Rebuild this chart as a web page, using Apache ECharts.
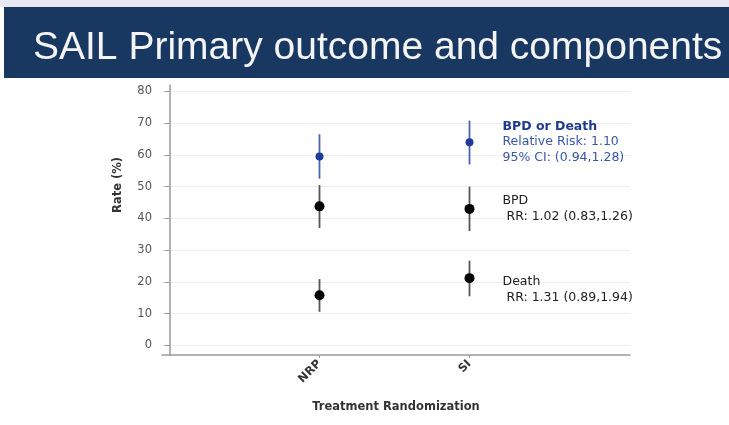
<!DOCTYPE html>
<html>
<head>
<meta charset="utf-8">
<script src="https://cdn.jsdelivr.net/npm/echarts@6/dist/echarts.min.js"></script>
<style>html,body{margin:0;padding:0;background:#fff;}#c{width:729px;height:425px;}</style>
</head>
<body>
<div id="c"></div>
<script>
// ---- data ----
const categories = ['NRP', 'SI'];
const yTicks = [0, 10, 20, 30, 40, 50, 60, 70, 80];
const compositeRate = [59.5, 64.0];
const compositeLow = [52.5, 57.0];
const compositeHigh = [66.5, 70.8];
const bpdRate = [43.8, 43.0];
const bpdLow = [37.0, 36.0];
const bpdHigh = [50.5, 50.0];
const deathRate = [15.8, 21.2];
const deathLow = [10.6, 15.5];
const deathHigh = [20.9, 26.7];
const compositeNote = ['BPD or Death', 'Relative Risk: 1.10', '95% CI: (0.94,1.28)'];
const bpdNote = ['BPD', ' RR: 1.02 (0.83,1.26)'];
const deathNote = ['Death', ' RR: 1.31 (0.89,1.94)'];
const titleText = 'SAIL Primary outcome and components';
const xName = 'Treatment Randomization';
const yName = 'Rate (%)';

const BLUE = '#1f3d98', BLUE_LINE = '#4a62b2';
const BLACK = '#050505', BLACK_LINE = '#555555';
const FONT = 'DejaVu Sans';

function pointData(rates, noteFn) {
  return rates.map((v, i) => {
    const item = { value: [i + 1, v] };
    if (i === categories.length - 1 && noteFn) item.label = noteFn();
    return item;
  });
}
function ciData(lo, hi) { return lo.map((l, i) => [i + 1, l, hi[i]]); }
function ciSeries(lo, hi, color) {
  return {
    type: 'custom', data: ciData(lo, hi), z: 1,
    encode: { x: 0, y: [1, 2] },
    renderItem: (params, api) => {
      const p1 = api.coord([api.value(0), api.value(1)]);
      const p2 = api.coord([api.value(0), api.value(2)]);
      return { type: 'line', shape: { x1: p1[0], y1: p1[1], x2: p2[0], y2: p2[1] },
        style: { stroke: color, lineWidth: 1.8 } };
    }
  };
}

const chart = echarts.init(document.getElementById('c'), null, { renderer: 'canvas' });
chart.setOption({
  animation: false,
  backgroundColor: '#ffffff',
  graphic: [
    { type: 'rect', left: 0, top: 0, z: -10, shape: { width: 729, height: 7 }, style: { fill: '#e8e6f1' } },
    { type: 'rect', left: 4, top: 7, z: -10, shape: { width: 725, height: 71 }, style: { fill: '#183862' } }
  ],
  title: {
    text: titleText, left: 28, top: 24, z: 10,
    textStyle: { color: '#f4f4f4', fontSize: 39, fontWeight: 'normal', fontFamily: 'Liberation Sans' }
  },
  grid: { left: 162, right: 99, top: 85, bottom: 70 },
  xAxis: {
    type: 'value', min: -0.05, max: 3.07,
    name: xName, nameLocation: 'middle', nameGap: 46,
    nameTextStyle: { color: '#333', fontWeight: 'bold', fontSize: 11.5, fontFamily: FONT },
    axisLine: { show: true, onZero: false, lineStyle: { color: '#9a9a9a', width: 1.5 } },
    axisTick: { show: true, length: 3, customValues: [1, 2], lineStyle: { color: '#9a9a9a' } },
    axisLabel: { customValues: [1, 2], rotate: 45, formatter: v => categories[Math.round(v) - 1] || '',
      color: '#333', fontWeight: 'bold', fontSize: 11.5, fontFamily: FONT, margin: 7 },
    splitLine: { show: false }
  },
  yAxis: {
    type: 'value', min: -3, max: 82,
    name: yName, nameLocation: 'middle', nameGap: 38,
    nameTextStyle: { color: '#333', fontWeight: 'bold', fontSize: 11.5, fontFamily: FONT, padding: [0, 0, 0, 70] },
    axisLine: { show: true, lineStyle: { color: '#9a9a9a', width: 1.5 } },
    axisTick: { show: true, length: 5, customValues: yTicks, lineStyle: { color: '#9a9a9a' } },
    axisLabel: { customValues: yTicks, color: '#555', fontSize: 11.5, fontFamily: FONT, margin: 10 },
    splitLine: { show: true, lineStyle: { color: '#efefef', width: 1 } }
  },
  series: [
    ciSeries(compositeLow, compositeHigh, BLUE_LINE),
    ciSeries(bpdLow, bpdHigh, BLACK_LINE),
    ciSeries(deathLow, deathHigh, BLACK_LINE),
    {
      type: 'scatter', symbolSize: 8, z: 3, itemStyle: { color: BLUE, opacity: 1 },
      data: pointData(compositeRate, () => ({
        show: true, position: 'right', distance: 29,
        formatter: '{b|' + compositeNote[0] + '}\n{n|' + compositeNote[1] + '}\n{n|' + compositeNote[2] + '}',
        rich: {
          b: { color: '#1f3a8f', fontWeight: 'bold', fontSize: 12.5, fontFamily: FONT, lineHeight: 15.5 },
          n: { color: '#3b56a8', fontSize: 12.5, fontFamily: FONT, lineHeight: 15.5 }
        }
      }))
    },
    {
      type: 'scatter', symbolSize: 10, z: 3, itemStyle: { color: BLACK, opacity: 1 },
      data: pointData(bpdRate, () => ({
        show: true, position: 'right', distance: 28,
        formatter: bpdNote.join('\n'),
        color: '#222', fontSize: 12.5, fontFamily: FONT, lineHeight: 16
      }))
    },
    {
      type: 'scatter', symbolSize: 10, z: 3, itemStyle: { color: BLACK, opacity: 1 },
      data: pointData(deathRate, () => ({
        show: true, position: 'right', distance: 28, offset: [0, 12],
        formatter: deathNote.join('\n'),
        color: '#222', fontSize: 12.5, fontFamily: FONT, lineHeight: 16
      }))
    }
  ]
});
</script>
</body>
</html>
